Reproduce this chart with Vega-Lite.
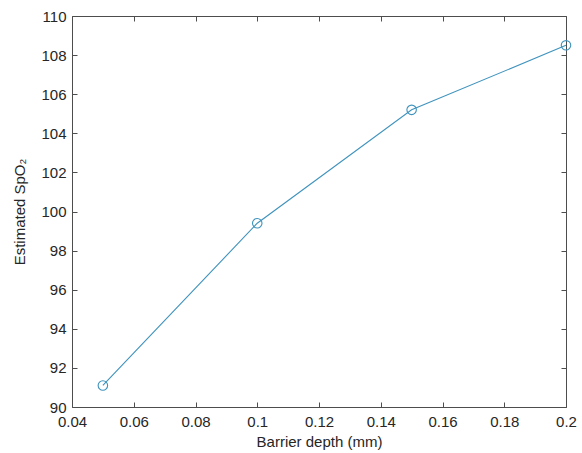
{
  "$schema": "https://vega.github.io/schema/vega-lite/v6.json",
  "width": 494,
  "height": 391,
  "autosize": {"type": "none"},
  "padding": {"left": 72, "top": 16, "right": 16, "bottom": 46},
  "background": "white",
  "config": {
    "view": {"stroke": null},
    "axis": {
      "domainColor": "#4d4d4d",
      "tickColor": "#4d4d4d",
      "labelColor": "#262626",
      "titleColor": "#262626",
      "labelFont": "Liberation Sans",
      "titleFont": "Liberation Sans",
      "labelFontSize": 15,
      "titleFontSize": 15,
      "titleFontWeight": "normal",
      "grid": false,
      "tickSize": -5,
      "labelPadding": 11,
      "labelFlush": false,
      "labelOverlap": false
    }
  },
  "data": {
    "values": [
      {"depth": 0.05, "spo2": 91.1},
      {"depth": 0.10, "spo2": 99.4},
      {"depth": 0.15, "spo2": 105.2},
      {"depth": 0.20, "spo2": 108.5}
    ]
  },
  "resolve": {"axis": {"x": "independent", "y": "independent"}},
  "layer": [
    {
      "mark": {"type": "line", "color": "#3f93bd", "strokeWidth": 1.1, "point": {"shape": "circle", "filled": false, "size": 90, "stroke": "#3f93bd", "strokeWidth": 1.1}},
      "encoding": {
        "x": {
          "field": "depth", "type": "quantitative",
          "scale": {"domain": [0.04, 0.2], "nice": false, "zero": false, "padding": 0},
          "axis": {"values": [0.04, 0.06, 0.08, 0.1, 0.12, 0.14, 0.16, 0.18, 0.2], "title": "Barrier depth (mm)", "labelPadding": 12, "titlePadding": 5, "labelExpr": "format(datum.value, '.2~f')"}
        },
        "y": {
          "field": "spo2", "type": "quantitative",
          "scale": {"domain": [90, 110], "nice": false, "zero": false, "padding": 0},
          "axis": {"values": [90, 92, 94, 96, 98, 100, 102, 104, 106, 108, 110], "title": "Estimated SpO₂", "titlePadding": 13}
        }
      }
    },
    {
      "mark": {"type": "line", "opacity": 0},
      "encoding": {
        "x": {
          "field": "depth", "type": "quantitative",
          "scale": {"domain": [0.04, 0.2], "nice": false, "zero": false, "padding": 0},
          "axis": {"orient": "top", "labels": false, "title": null, "values": [0.04, 0.06, 0.08, 0.1, 0.12, 0.14, 0.16, 0.18, 0.2]}
        },
        "y": {
          "field": "spo2", "type": "quantitative",
          "scale": {"domain": [90, 110], "nice": false, "zero": false, "padding": 0},
          "axis": {"orient": "right", "labels": false, "title": null, "values": [90, 92, 94, 96, 98, 100, 102, 104, 106, 108, 110]}
        }
      }
    }
  ]
}
